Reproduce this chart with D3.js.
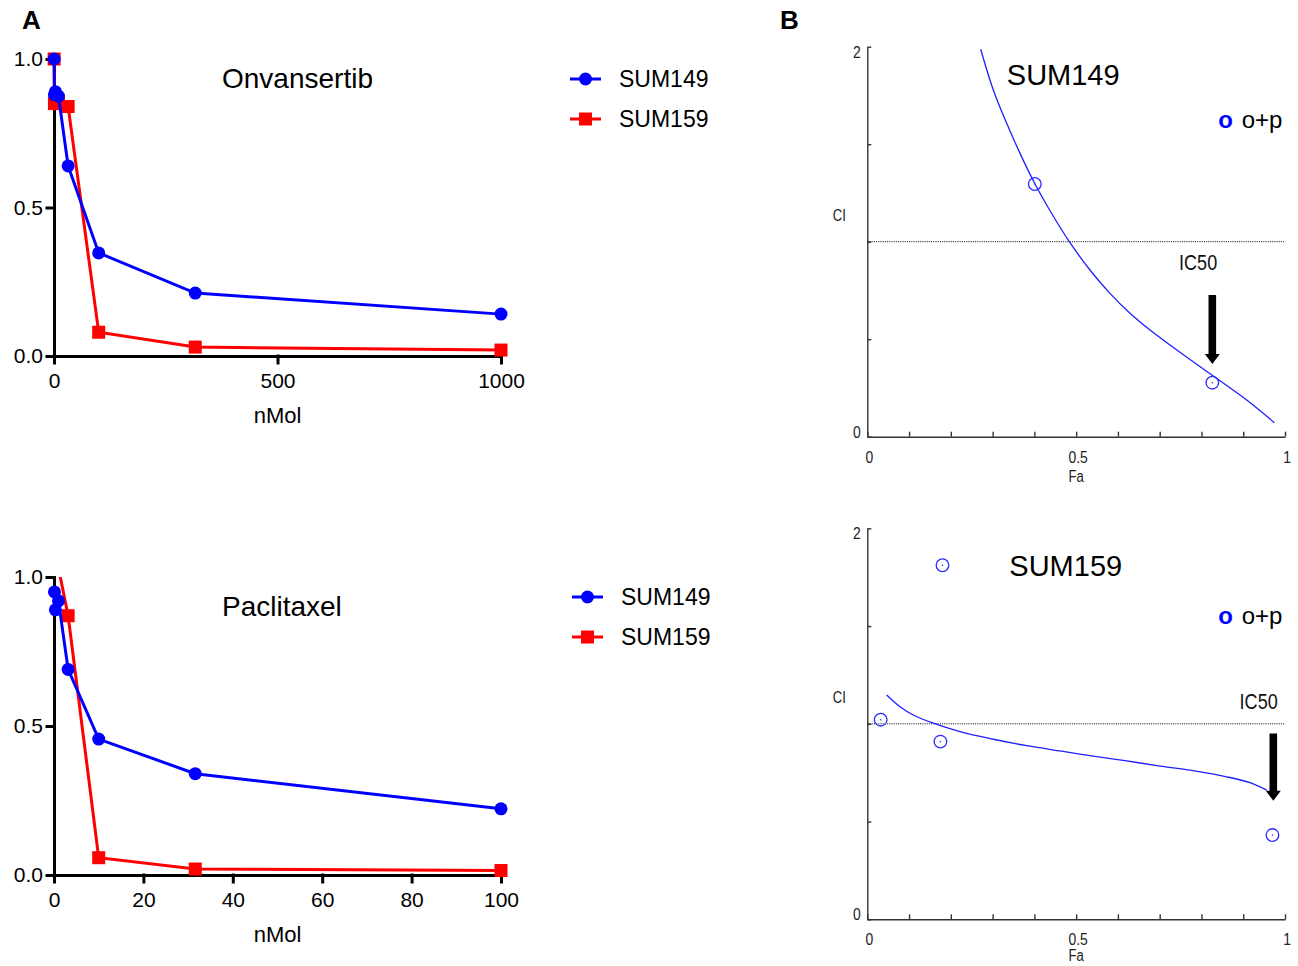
<!DOCTYPE html>
<html><head><meta charset="utf-8">
<script src="https://cdn.jsdelivr.net/npm/d3@7/dist/d3.min.js"></script>
<style>
body{margin:0;background:#fff}
svg{display:block}
text{font-family:'Liberation Sans',Arial,Helvetica,sans-serif}
</style>
</head><body>
<svg id="c" width="1298" height="966"></svg>
<script>
// ---------------- DATA ----------------
// Panel A, top: Onvansertib (nMol)
const onvDoses   = [0.316, 1, 3.16, 10, 31.6, 100, 316, 1000];
const onvSUM149  = [1.00, 0.88, 0.89, 0.875, 0.64, 0.347, 0.212, 0.141];
const onvSUM159  = [1.00, 0.85, 0.85, 0.85, 0.84, 0.080, 0.030, 0.020];
const onvXTicks  = [0, 500, 1000];
// Panel A, bottom: Paclitaxel (nMol)
const pacDoses   = [0.1, 0.316, 1, 3.16, 10, 31.6, 100];
const pacSUM149  = [0.95, 0.89, 0.92, 0.69, 0.456, 0.34, 0.222];
const pacSUM159  = [null, null, 1.03, 0.87, 0.058, 0.020, 0.015];
const pacXTicks  = [0, 20, 40, 60, 80, 100];
const viaYTicks  = [0, 0.5, 1.0];
const seriesNames = ["SUM149", "SUM159"];

// Panel B, top: SUM149 CI vs Fa
const fa149Curve = [0.2715,0.3017,0.3337,0.3656,0.4015,0.4422,0.4836,0.5331,0.5810,0.6289,0.6768,0.7247,0.8037,0.9083,0.9744];
const ci149Curve = [1.987,1.778,1.607,1.453,1.296,1.142,1.000,0.855,0.735,0.633,0.547,0.470,0.348,0.188,0.072];
const fa149Pts   = [0.401, 0.826];
const ci149Pts   = [1.296, 0.277];
// Panel B, bottom: SUM159 CI vs Fa
const fa159Curve = [0.0464,0.0783,0.110,0.158,0.222,0.302,0.382,0.461,0.541,0.621,0.701,0.780,0.860,0.916,0.956];
const ci159Curve = [1.147,1.087,1.045,1.003,0.960,0.921,0.888,0.861,0.835,0.810,0.784,0.760,0.729,0.699,0.661];
const fa159Pts   = [0.032, 0.175, 0.180, 0.970];
const ci159Pts   = [1.021, 0.909, 1.811, 0.431];
const faTicks    = [0,0.1,0.2,0.3,0.4,0.5,0.6,0.7,0.8,0.9,1.0];
const faLabels   = [0, 0.5, 1];
const ciTicks    = [0,0.5,1,1.5,2];
const ciLabels   = [0, 2];
const comboName  = "o+p";

// ---------------- DRAWING ----------------
const svg = d3.select('#c');
const BLUE = '#0000ff', RED = '#ff0000';

svg.append('text').attr('x',22).attr('y',29).attr('font-size',26).attr('font-weight','bold').text('A');
svg.append('text').attr('x',780).attr('y',29).attr('font-size',26).attr('font-weight','bold').text('B');

function leftPanel(o){
  const g = svg.append('g');
  const x = d3.scaleLinear().domain([0, o.xTicks[o.xTicks.length-1]]).range([54, 501]);
  const y = d3.scaleLinear().domain([0, 1]).range(o.yRange);

  const xa = g.append('g').attr('transform',`translate(0,${y(0)})`)
    .call(d3.axisBottom(x).tickValues(o.xTicks).tickSize(7).tickPadding(10).tickSizeOuter(0).tickFormat(d3.format('d')));
  const ya = g.append('g').attr('transform',`translate(${x(0)},0)`)
    .call(d3.axisLeft(y).tickValues(viaYTicks).tickSize(7).tickPadding(4).tickSizeOuter(0).tickFormat(d3.format('.1f')));
  [xa, ya].forEach(a=>{
    a.selectAll('path,line').attr('stroke','#000').attr('stroke-width',3).attr('stroke-linecap','square');
    a.selectAll('text').attr('font-size',21).attr('fill','#000').attr('font-family',"'Liberation Sans',Arial,sans-serif");
  });

  const plot = g.append('g');
  if (o.clip){
    svg.append('clipPath').attr('id',o.clip).append('rect')
      .attr('x',0).attr('y',y(1)).attr('width',540).attr('height',y(0)-y(1)+20);
    plot.attr('clip-path',`url(#${o.clip})`);
  }
  const line = d3.line().defined(d=>d.v!=null).x(d=>x(d.d)).y(d=>y(d.v));
  const mk = vals => o.doses.map((d,i)=>({d, v: vals[i]}));
  const red = mk(o.s159), blue = mk(o.s149);

  plot.append('path').datum(red).attr('d',line).attr('fill','none').attr('stroke',RED).attr('stroke-width',3);
  plot.selectAll('.sq').data(red.filter(d=>d.v!=null)).join('rect')
    .attr('x',d=>x(d.d)-6.5).attr('y',d=>y(d.v)-6.5).attr('width',13).attr('height',13).attr('fill',RED);
  plot.append('path').datum(blue).attr('d',line).attr('fill','none').attr('stroke',BLUE).attr('stroke-width',3);
  plot.selectAll('.ci').data(blue.filter(d=>d.v!=null)).join('circle')
    .attr('cx',d=>x(d.d)).attr('cy',d=>y(d.v)).attr('r',6.5).attr('fill',BLUE);

  g.append('text').attr('x',222).attr('y',o.titleY).attr('font-size',28).text(o.title);
  g.append('text').attr('x',x.range()[0] + (x.range()[1]-x.range()[0])/2).attr('y',o.nmolY)
    .attr('text-anchor','middle').attr('font-size',22).text('nMol');

  seriesNames.forEach((nm,i)=>{
    const ly = o.legendY + i*40;
    const col = i===0 ? BLUE : RED;
    g.append('line').attr('x1',o.legendX).attr('x2',o.legendX+31).attr('y1',ly).attr('y2',ly)
      .attr('stroke',col).attr('stroke-width',3);
    if (i===0) g.append('circle').attr('cx',o.legendX+15.5).attr('cy',ly).attr('r',6.5).attr('fill',col);
    else g.append('rect').attr('x',o.legendX+9).attr('y',ly-6.5).attr('width',13).attr('height',13).attr('fill',col);
    g.append('text').attr('x',o.legendX+49).attr('y',ly+8.2).attr('font-size',23).text(nm);
  });
}

leftPanel({xTicks:onvXTicks, yRange:[356,59], doses:onvDoses, s149:onvSUM149, s159:onvSUM159,
  title:'Onvansertib', titleY:88, nmolY:423, legendY:79, legendX:570});
leftPanel({xTicks:pacXTicks, yRange:[875,577], doses:pacDoses, s149:pacSUM149, s159:pacSUM159,
  title:'Paclitaxel', titleY:616, nmolY:942, legendY:597, legendX:572, clip:'clipPac'});

function narrow(g, x, y, txt, size, anchor, fill){
  return g.append('text').attr('transform',`translate(${x},${y}) scale(0.82,1)`)
    .attr('text-anchor',anchor||'start').attr('font-size',size).attr('fill',fill||'#222').text(txt);
}

function ciPanel(o){
  const g = svg.append('g');
  const x = d3.scaleLinear().domain([0,1]).range([867.3,1285]);
  const y = d3.scaleLinear().domain([0,2]).range(o.yRange);

  const xa = g.append('g').attr('transform',`translate(0,${y(0)})`)
    .call(d3.axisBottom(x).tickValues(faTicks).tickSize(-5).tickSizeOuter(0).tickFormat(''));
  const ya = g.append('g').attr('transform',`translate(${x(0)},0)`)
    .call(d3.axisLeft(y).tickValues(ciTicks).tickSize(-4).tickSizeOuter(0).tickFormat(''));
  [xa, ya].forEach(a=>{
    a.selectAll('path,line').attr('stroke','#333').attr('stroke-width',1.4);
  });

  faLabels.forEach(v=> narrow(g, x(v)+2, y(0)+26, String(v), 17, 'middle'));
  ciLabels.forEach(v=> narrow(g, x(0)-10.5, y(v) + (v===0 ? 1 : 11), String(v), 17, 'middle'));
  narrow(g, x(0)-28, y(1.13) + 4.5, 'CI', 16, 'middle');
  narrow(g, x(0.5), Math.min(y(0)+45.5, 961), 'Fa', 16, 'middle');

  g.append('line').attr('x1',x(0)).attr('x2',x(1)).attr('y1',y(1)).attr('y2',y(1))
    .attr('stroke','#000').attr('stroke-width',1).attr('stroke-dasharray','1,1.2');

  const pts = o.fa.map((f,i)=>[f, o.ci[i]]);
  g.append('path').datum(pts).attr('d', d3.line().curve(d3.curveCatmullRom.alpha(0.5)).x(d=>x(d[0])).y(d=>y(d[1])))
    .attr('fill','none').attr('stroke','#1f1fff').attr('stroke-width',1.3);

  const dp = o.pFa.map((f,i)=>[f, o.pCI[i]]);
  g.selectAll('.dp').data(dp).join('circle').attr('cx',d=>x(d[0])).attr('cy',d=>y(d[1]))
    .attr('r',6.3).attr('fill','none').attr('stroke','#2a2aff').attr('stroke-width',1.3);
  g.selectAll('.dc').data(dp).join('circle').attr('cx',d=>x(d[0])).attr('cy',d=>y(d[1]))
    .attr('r',0.8).attr('fill','#2a2aff');

  const ax = x(o.arrow.fa), at = y(o.arrow.top), tip = y(o.arrow.tip);
  g.append('path').attr('fill','#000')
    .attr('d',`M${ax-3.8},${at}H${ax+3.8}V${tip-10}H${ax+7.5}L${ax},${tip}L${ax-7.5},${tip-10}H${ax-3.8}Z`);
  narrow(g, x(o.ic50.fa), y(o.ic50.ci), 'IC50', 22, o.ic50.anchor, '#111');

  g.append('text').attr('x',x(o.titleFa)).attr('y',o.titleY).attr('font-size',29).text(o.title);
  g.append('text').attr('x',1218.3).attr('y',o.legY).attr('font-size',24).attr('font-weight','bold').attr('fill',BLUE).text('o');
  g.append('text').attr('x',1241.7).attr('y',o.legY).attr('font-size',24).text(comboName);
}

ciPanel({yRange:[436.7,46.7], fa:fa149Curve, ci:ci149Curve, pFa:fa149Pts, pCI:ci149Pts,
  arrow:{fa:0.826, top:0.727, tip:0.373}, ic50:{fa:0.792, ci:0.855, anchor:'middle'},
  title:'SUM149', titleFa:0.334, titleY:85.4, legY:128});
ciPanel({yRange:[919.3,528.3], fa:fa159Curve, ci:ci159Curve, pFa:fa159Pts, pCI:ci159Pts,
  arrow:{fa:0.972, top:0.951, tip:0.607}, ic50:{fa:0.9825, ci:1.077, anchor:'end'},
  title:'SUM159', titleFa:0.340, titleY:576, legY:623.6});
</script>
</body></html>
